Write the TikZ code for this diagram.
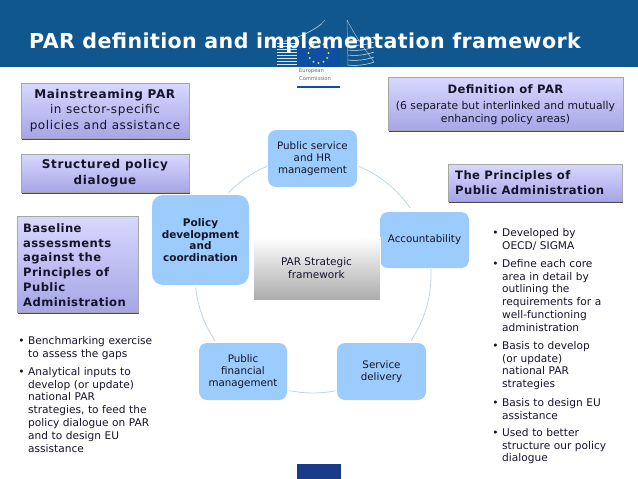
\documentclass[tikz,border=0pt]{standalone}
\usepackage{fontspec}
\setmainfont{DejaVu Sans}
\newfontfamily\wideA[LetterSpace=5]{DejaVu Sans}
\newfontfamily\wideB[LetterSpace=3.5]{DejaVu Sans}
\newfontfamily\wideT[LetterSpace=1.8]{DejaVu Sans}
\usetikzlibrary{shadows,calc}
\definecolor{barblue}{HTML}{10568F}
\definecolor{logoblue}{HTML}{0E4FA3}
\definecolor{flagblue}{HTML}{1A3A8A}
\definecolor{petal}{HTML}{9CCCFB}
\definecolor{ink}{HTML}{14142A}
\definecolor{ringc}{HTML}{BCD6E8}
\definecolor{lavtop}{HTML}{D8D8FF}
\definecolor{lavbot}{HTML}{A6A6E6}
\newcommand{\fs}[2]{\fontsize{#1}{#2}\selectfont}
\newcommand{\bul}[1]{\noindent\llap{\makebox[9.8pt][l]{\textbullet}}\strut #1\par}
\tikzset{
  lav/.style={draw=black!35,line width=.5pt,top color=lavtop,bottom color=lavbot,
     drop shadow={shadow xshift=.8pt,shadow yshift=-1.5pt,opacity=.7,fill=black},
     text=ink,inner sep=0pt,align=center},
  petalbox/.style={fill=petal,rounded corners=8pt,text=ink,inner sep=0pt,align=center,font=\fs{10.3}{12}},
  ring/.style={draw=ringc,line width=.8pt},
  bulletblock/.style={anchor=north west,inner sep=0pt,text=ink,text width=#1,font=\fs{10.6}{12.85}\raggedright},
  wing/.style={draw=white,line width=.5pt,opacity=.85}
}
\begin{document}
\begin{tikzpicture}[x=1pt,y=-1pt]
\useasboundingbox (0,0) rectangle (638,479);
\fill[barblue] (0,0) rectangle (638,67);
% logo
\fill[white] (297,67) rectangle (340,88);
\fill[logoblue] (297,85.5) rectangle (340,88);
\fill[logoblue] (297,43) rectangle (340,67);
\foreach \a in {0,30,...,330} {
  \node[fill=yellow!85!green,circle,inner sep=0pt,minimum size=2.2pt] (star\a) at ($(318.5,53)+(\a:10pt)$) {};
}
\foreach \yy in {43,46,49,52,55,58,61,64,67} { \draw[wing] (277,\yy) -- (297,\yy); }
\draw[wing,opacity=.5] (279,42) .. controls (300,38) and (316,30) .. (325,20);
\draw[wing,opacity=.5] (284,42) .. controls (302,36) and (314,30) .. (322,24);
\foreach \yy in {40,45,50,55,60,65} {
  \draw[wing] (348,\yy) .. controls (356,\yy+1) and (366,\yy) .. (374,\yy-3);
}
\draw[wing,opacity=.5] (347,20) -- (348,66);
\draw[wing,opacity=.6] (347,20) .. controls (354,34) and (364,48) .. (374,62);
\node[anchor=north west,inner sep=0pt,text=black!60,align=left,font=\fs{5.2}{8}] (eclabel) at (299,68.5) {European\\Commission};
% title
\node[anchor=base west,inner sep=0pt,text=white,font=\wideT\fs{20.6}{24}\bfseries] (title) at (29,48) {PAR definition and implementation framework};
% ring
\coordinate (hub) at (313,275);
\draw[ring] ($(hub)+(67:118pt)$) arc[start angle=67,end angle=34.5,radius=118pt];
\draw[ring] ($(hub)+(3:118pt)$) arc[start angle=3,end angle=-34,radius=118pt];
\draw[ring] ($(hub)+(-79:118pt)$) arc[start angle=-79,end angle=-101.6,radius=118pt];
\draw[ring] ($(hub)+(-146:118pt)$) arc[start angle=-146,end angle=-174,radius=118pt];
\draw[ring] ($(hub)+(135.7:118pt)$) arc[start angle=135.7,end angle=113,radius=118pt];
% petals
\node[petalbox,minimum width=89pt,minimum height=57pt] (ps) at (312.5,158.5) {Public service\\and HR\\management};
\node[petalbox,minimum width=89pt,minimum height=56pt] (acc) at (424.5,240) {Accountability};
\node[petalbox,minimum width=89pt,minimum height=57pt] (sd) at (381.5,371.5) {Service\\delivery};
\node[petalbox,minimum width=88pt,minimum height=57pt] (pf) at (243,371.5) {Public\\financial\\management};
\node[petalbox,minimum width=97pt,minimum height=90pt,rounded corners=11pt,font=\fs{10.5}{11.7}\bfseries] (pd) at (200.5,240) {Policy\\development\\and\\coordination};
% centre
\node[draw=white,line width=.8pt,top color=white,bottom color=black!33,minimum width=127pt,minimum height=63pt,inner sep=0pt,align=center,text=ink,font=\fs{10.5}{13},
  drop shadow={shadow xshift=.6pt,shadow yshift=-.8pt,opacity=.4,fill=black}] (psf) at (316.5,268.5) {PAR Strategic\\framework};
% lavender boxes
\node[lav,minimum width=168pt,minimum height=55pt,font=\wideA\fs{12}{15.5}] (main) at (105,110.5) {\textbf{Mainstreaming PAR}\\in sector-specific\\policies and assistance};
\node[lav,minimum width=168pt,minimum height=38pt,font=\wideA\fs{12}{15.5}\bfseries] (spd) at (105,173) {Structured policy\\dialogue};
\node[lav,minimum width=121pt,minimum height=96pt] (base) at (77.5,264) {};
\node[anchor=west,inner sep=0pt,align=left,text=ink,font=\wideB\fs{11.6}{14.7}\bfseries] (baset) at (23,265) {Baseline\\assessments\\against the\\Principles of\\Public\\Administration};
\node[lav,minimum width=235pt,minimum height=53pt] (defbox) at (505.5,103.5) {};
\node[inner sep=0pt,text=ink,font=\wideB\fs{11.6}{14}\bfseries] (deft) at (505.5,89) {Definition of PAR};
\node[inner sep=0pt,text=ink,align=center,font=\fs{10.8}{13}] (defs) at (505.5,113) {(6 separate but interlinked and mutually\\enhancing policy areas)};
\node[lav,minimum width=174pt,minimum height=37pt] (prbox) at (535,182.5) {};
\node[anchor=west,inner sep=0pt,align=left,text=ink,font=\wideB\fs{11.6}{14.5}\bfseries] (prt) at (455,182.5) {The Principles of\\Public Administration};
% bullets left
\node[bulletblock=150pt] (b1) at (28,335) {\bul{Benchmarking exercise\\to assess the gaps}};
\node[bulletblock=150pt] (b2) at (28,366) {\bul{Analytical inputs to\\develop (or update)\\national PAR\\strategies, to feed the\\policy dialogue on PAR\\and to design EU\\assistance}};
% bullets right
\node[bulletblock=125pt] (c1) at (502,227) {\bul{Developed by\\OECD/ SIGMA}};
\node[bulletblock=125pt] (c2) at (502,258) {\bul{Define each core\\area in detail by\\outlining the\\requirements for a\\well-functioning\\administration}};
\node[bulletblock=125pt] (c3) at (502,340) {\bul{Basis to develop\\(or update)\\national PAR\\strategies}};
\node[bulletblock=125pt] (c4) at (502,397) {\bul{Basis to design EU\\assistance}};
\node[bulletblock=125pt] (c5) at (502,427) {\bul{Used to better\\structure our policy\\dialogue}};
% footer
\fill[flagblue] (297,464) rectangle (341,479);
\end{tikzpicture}
\end{document}
